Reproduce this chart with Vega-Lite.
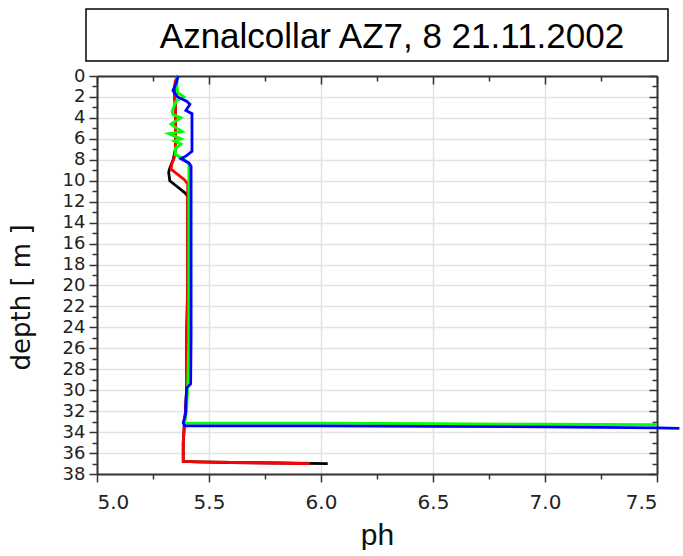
{
  "$schema": "https://vega.github.io/schema/vega-lite/v6.json",
  "padding": {"left": 8, "top": 8, "right": 0, "bottom": 0},
  "background": "white",
  "bounds": "flush",
  "center": true,
  "spacing": 15,
  "config": {"view": {"stroke": null}, "font": "Liberation Sans"},
  "datasets": {
    "profiles": [
      {"series": "black", "ph": 5.36, "depth": 0},
      {"series": "black", "ph": 5.35, "depth": 0.5},
      {"series": "black", "ph": 5.345, "depth": 1.5},
      {"series": "black", "ph": 5.35, "depth": 3},
      {"series": "black", "ph": 5.35, "depth": 5},
      {"series": "black", "ph": 5.35, "depth": 7},
      {"series": "black", "ph": 5.34, "depth": 8},
      {"series": "black", "ph": 5.325, "depth": 8.8},
      {"series": "black", "ph": 5.32, "depth": 9.2},
      {"series": "black", "ph": 5.325, "depth": 10.0},
      {"series": "black", "ph": 5.36, "depth": 10.6},
      {"series": "black", "ph": 5.395, "depth": 11.2},
      {"series": "black", "ph": 5.405, "depth": 11.5},
      {"series": "black", "ph": 5.405, "depth": 14},
      {"series": "black", "ph": 5.405, "depth": 20},
      {"series": "black", "ph": 5.4, "depth": 25},
      {"series": "black", "ph": 5.4, "depth": 30},
      {"series": "black", "ph": 5.395, "depth": 32},
      {"series": "black", "ph": 5.39, "depth": 33.3},
      {"series": "black", "ph": 5.385, "depth": 35},
      {"series": "black", "ph": 5.385, "depth": 36.8},
      {"series": "black", "ph": 5.45, "depth": 36.85},
      {"series": "black", "ph": 5.6, "depth": 36.9},
      {"series": "black", "ph": 5.8, "depth": 36.95},
      {"series": "black", "ph": 6.03, "depth": 37.0},
      {"series": "red", "ph": 5.36, "depth": 0},
      {"series": "red", "ph": 5.35, "depth": 0.5},
      {"series": "red", "ph": 5.345, "depth": 1.5},
      {"series": "red", "ph": 5.35, "depth": 3},
      {"series": "red", "ph": 5.35, "depth": 5},
      {"series": "red", "ph": 5.35, "depth": 7},
      {"series": "red", "ph": 5.345, "depth": 7.8},
      {"series": "red", "ph": 5.335, "depth": 8.3},
      {"series": "red", "ph": 5.33, "depth": 8.9},
      {"series": "red", "ph": 5.36, "depth": 9.4},
      {"series": "red", "ph": 5.39, "depth": 9.9},
      {"series": "red", "ph": 5.405, "depth": 10.3},
      {"series": "red", "ph": 5.405, "depth": 12},
      {"series": "red", "ph": 5.405, "depth": 20},
      {"series": "red", "ph": 5.4, "depth": 25},
      {"series": "red", "ph": 5.4, "depth": 30},
      {"series": "red", "ph": 5.395, "depth": 32},
      {"series": "red", "ph": 5.39, "depth": 33.3},
      {"series": "red", "ph": 5.385, "depth": 35},
      {"series": "red", "ph": 5.385, "depth": 36.8},
      {"series": "red", "ph": 5.45, "depth": 36.85},
      {"series": "red", "ph": 5.6, "depth": 36.9},
      {"series": "red", "ph": 5.8, "depth": 36.95},
      {"series": "red", "ph": 5.95, "depth": 37.0},
      {"series": "green", "ph": 5.357, "depth": 0},
      {"series": "green", "ph": 5.357, "depth": 1.0},
      {"series": "green", "ph": 5.36, "depth": 1.6},
      {"series": "green", "ph": 5.388, "depth": 2.0},
      {"series": "green", "ph": 5.353, "depth": 2.4},
      {"series": "green", "ph": 5.335, "depth": 3.4},
      {"series": "green", "ph": 5.34, "depth": 3.7},
      {"series": "green", "ph": 5.375, "depth": 4.0},
      {"series": "green", "ph": 5.33, "depth": 4.6},
      {"series": "green", "ph": 5.35, "depth": 4.9},
      {"series": "green", "ph": 5.38, "depth": 5.3},
      {"series": "green", "ph": 5.32, "depth": 5.5},
      {"series": "green", "ph": 5.375, "depth": 6.0},
      {"series": "green", "ph": 5.345, "depth": 6.2},
      {"series": "green", "ph": 5.375, "depth": 6.5},
      {"series": "green", "ph": 5.35, "depth": 6.9},
      {"series": "green", "ph": 5.35, "depth": 7.5},
      {"series": "green", "ph": 5.385, "depth": 7.9},
      {"series": "green", "ph": 5.41, "depth": 8.4},
      {"series": "green", "ph": 5.41, "depth": 15},
      {"series": "green", "ph": 5.41, "depth": 25},
      {"series": "green", "ph": 5.405, "depth": 29.5},
      {"series": "green", "ph": 5.4, "depth": 32},
      {"series": "green", "ph": 5.39, "depth": 33.1},
      {"series": "green", "ph": 5.395, "depth": 33.15},
      {"series": "green", "ph": 6.0, "depth": 33.15},
      {"series": "green", "ph": 6.5, "depth": 33.2},
      {"series": "green", "ph": 7.0, "depth": 33.25},
      {"series": "green", "ph": 7.5, "depth": 33.3},
      {"series": "blue", "ph": 5.362, "depth": 0},
      {"series": "blue", "ph": 5.355, "depth": 0.6},
      {"series": "blue", "ph": 5.339, "depth": 1.4},
      {"series": "blue", "ph": 5.36, "depth": 2.0},
      {"series": "blue", "ph": 5.4, "depth": 2.4},
      {"series": "blue", "ph": 5.415, "depth": 2.7},
      {"series": "blue", "ph": 5.397, "depth": 3.3},
      {"series": "blue", "ph": 5.424, "depth": 3.6},
      {"series": "blue", "ph": 5.424, "depth": 7.2},
      {"series": "blue", "ph": 5.4, "depth": 7.6},
      {"series": "blue", "ph": 5.375, "depth": 7.9},
      {"series": "blue", "ph": 5.41, "depth": 8.3},
      {"series": "blue", "ph": 5.42, "depth": 8.6},
      {"series": "blue", "ph": 5.42, "depth": 15},
      {"series": "blue", "ph": 5.42, "depth": 25},
      {"series": "blue", "ph": 5.418, "depth": 29.4},
      {"series": "blue", "ph": 5.4, "depth": 29.8},
      {"series": "blue", "ph": 5.395, "depth": 32.3},
      {"series": "blue", "ph": 5.385, "depth": 33.1},
      {"series": "blue", "ph": 5.39, "depth": 33.4},
      {"series": "blue", "ph": 6.0, "depth": 33.4},
      {"series": "blue", "ph": 6.5, "depth": 33.45},
      {"series": "blue", "ph": 7.0, "depth": 33.5},
      {"series": "blue", "ph": 7.5, "depth": 33.6},
      {"series": "blue", "ph": 7.6, "depth": 33.65}
    ]
  },
  "vconcat": [
    {
      "width": 582,
      "height": 52,
      "data": {"values": [{"t": "Aznalcollar AZ7, 8  21.11.2002"}]},
      "view": {"stroke": "black", "strokeWidth": 1.5, "fill": "white"},
      "mark": {"type": "text", "font": "Liberation Sans", "fontSize": 35, "dx": 15, "dy": 2, "baseline": "middle", "color": "black"},
      "encoding": {"text": {"field": "t", "type": "nominal"}}
    },
    {
      "width": 560,
      "height": 398,
      "data": {"name": "profiles"},
      "resolve": {"axis": {"x": "independent", "y": "independent"}},
      "layer": [
        {
          "mark": {"type": "line", "strokeWidth": 2.8, "clip": false},
          "encoding": {
            "x": {
              "field": "ph", "type": "quantitative",
              "scale": {"domain": [5, 7.5], "nice": false, "zero": false},
              "axis": {
                "orient": "bottom", "values": [5, 5.5, 6, 6.5, 7, 7.5], "format": ".1f",
                "grid": true, "gridColor": "#e2e2e2", "gridWidth": 1.5,
                "tickSize": 8, "tickWidth": 1.5, "tickColor": "#333",
                "domainColor": "#333", "domainWidth": 2,
                "labelFont": "DejaVu Sans", "labelFontSize": 20, "labelColor": "#222", "labelPadding": 10,
                "title": "ph", "titleFont": "Liberation Sans", "titleFontSize": 30, "titleFontWeight": "normal", "titleColor": "#111", "titlePadding": 8
              }
            },
            "y": {
              "field": "depth", "type": "quantitative",
              "scale": {"domain": [0, 38], "nice": false, "zero": false, "reverse": true},
              "axis": {
                "orient": "left", "values": [0, 2, 4, 6, 8, 10, 12, 14, 16, 18, 20, 22, 24, 26, 28, 30, 32, 34, 36, 38],
                "grid": true, "gridColor": "#e2e2e2", "gridWidth": 1.5,
                "tickSize": 8, "tickWidth": 1.5, "tickColor": "#333",
                "domainColor": "#333", "domainWidth": 2,
                "labelFont": "DejaVu Sans", "labelFontSize": 18, "labelColor": "#222", "labelPadding": 4, "labelOverlap": false,
                "title": "depth  [ m ]", "titleFont": "DejaVu Sans", "titleFontSize": 26, "titleFontWeight": "normal", "titleColor": "#111", "titlePadding": 28, "titleY": 221
              }
            },
            "color": {
              "field": "series", "type": "nominal",
              "scale": {"domain": ["black", "red", "green", "blue"], "range": ["#000000", "#ff0000", "#00ff00", "#0000ff"]},
              "legend": null
            },
            "order": {"value": null}
          }
        },
        {
          "mark": {"type": "line", "strokeOpacity": 0},
          "encoding": {
            "x": {
              "field": "ph", "type": "quantitative",
              "scale": {"domain": [5, 7.5], "nice": false, "zero": false},
              "axis": {"orient": "top", "values": [5, 5.5, 6, 6.5, 7, 7.5], "labels": false, "title": null, "grid": false,
                "tickSize": -8, "tickWidth": 1.5, "tickColor": "#333", "domainColor": "#333", "domainWidth": 2}
            },
            "y": {
              "field": "depth", "type": "quantitative",
              "scale": {"domain": [0, 38], "nice": false, "zero": false, "reverse": true},
              "axis": {"orient": "right", "values": [0, 2, 4, 6, 8, 10, 12, 14, 16, 18, 20, 22, 24, 26, 28, 30, 32, 34, 36, 38], "labels": false, "title": null, "grid": false,
                "tickSize": -8, "tickWidth": 1.5, "tickColor": "#333", "domainColor": "#333", "domainWidth": 2}
            },
            "detail": {"field": "series", "type": "nominal"},
            "order": {"value": null}
          }
        },
        {
          "mark": {"type": "line", "strokeOpacity": 0},
          "encoding": {
            "x": {
              "field": "ph", "type": "quantitative",
              "scale": {"domain": [5, 7.5], "nice": false, "zero": false},
              "axis": {"orient": "bottom", "values": [5.25, 5.75, 6.25, 6.75, 7.25], "labels": false, "title": null, "grid": false, "domain": false,
                "tickSize": 5, "tickWidth": 1.5, "tickColor": "#333"}
            },
            "y": {
              "field": "depth", "type": "quantitative",
              "scale": {"domain": [0, 38], "nice": false, "zero": false, "reverse": true},
              "axis": {"orient": "left", "values": [1, 3, 5, 7, 9, 11, 13, 15, 17, 19, 21, 23, 25, 27, 29, 31, 33, 35, 37], "labels": false, "title": null, "grid": false, "domain": false,
                "tickSize": 5, "tickWidth": 1.5, "tickColor": "#333"}
            },
            "detail": {"field": "series", "type": "nominal"},
            "order": {"value": null}
          }
        },
        {
          "mark": {"type": "line", "strokeOpacity": 0},
          "encoding": {
            "x": {
              "field": "ph", "type": "quantitative",
              "scale": {"domain": [5, 7.5], "nice": false, "zero": false},
              "axis": {"orient": "top", "values": [5.25, 5.75, 6.25, 6.75, 7.25], "labels": false, "title": null, "grid": false, "domain": false,
                "tickSize": -5, "tickWidth": 1.5, "tickColor": "#333"}
            },
            "y": {
              "field": "depth", "type": "quantitative",
              "scale": {"domain": [0, 38], "nice": false, "zero": false, "reverse": true},
              "axis": {"orient": "right", "values": [1, 3, 5, 7, 9, 11, 13, 15, 17, 19, 21, 23, 25, 27, 29, 31, 33, 35, 37], "labels": false, "title": null, "grid": false, "domain": false,
                "tickSize": -5, "tickWidth": 1.5, "tickColor": "#333"}
            },
            "detail": {"field": "series", "type": "nominal"},
            "order": {"value": null}
          }
        }
      ]
    }
  ]
}
